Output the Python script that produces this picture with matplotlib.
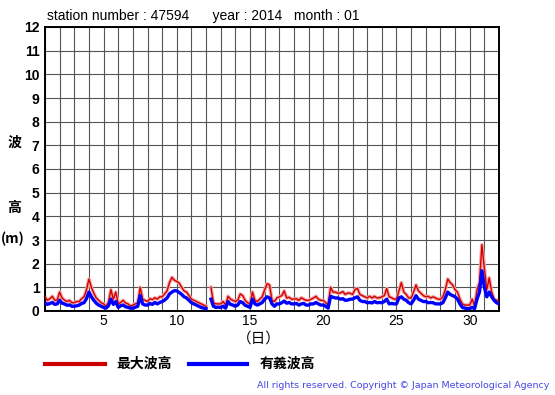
import numpy as np
import matplotlib
matplotlib.use("Agg")
import matplotlib.pyplot as plt
from matplotlib.lines import Line2D

# --- Data (4-hourly readings, January 2014, station 47594) ---
station = "47594"
year = "2014"
month = "01"

# significant wave height (m), 6 values per day, day 1 .. day 31, then end of month
sig_wave = [
    0.35, 0.28, 0.32, 0.36, 0.28, 0.30,   # 1
    0.45, 0.33, 0.30, 0.24, 0.26, 0.20,   # 2
    0.20, 0.22, 0.25, 0.32, 0.35, 0.52,   # 3
    0.80, 0.60, 0.45, 0.33, 0.25, 0.20,   # 4
    0.15, 0.12, 0.22, 0.50, 0.28, 0.40,   # 5
    0.15, 0.22, 0.25, 0.18, 0.15, 0.12,   # 6
    0.12, 0.16, 0.20, 0.65, 0.30, 0.25,   # 7
    0.25, 0.32, 0.28, 0.36, 0.30, 0.36,   # 8
    0.40, 0.46, 0.55, 0.72, 0.80, 0.86,   # 9
    0.85, 0.78, 0.70, 0.60, 0.55, 0.45,   # 10
    0.35, 0.30, 0.25, 0.20, 0.15, 0.12,   # 11
    0.10, np.nan, 0.50, 0.20, 0.15, 0.16,  # 12
    0.15, 0.20, 0.12, 0.40, 0.28, 0.25,   # 13
    0.20, 0.26, 0.40, 0.35, 0.24, 0.20,   # 14
    0.15, 0.50, 0.30, 0.25, 0.30, 0.36,   # 15
    0.50, 0.60, 0.55, 0.30, 0.20, 0.30,   # 16
    0.30, 0.35, 0.42, 0.33, 0.36, 0.30,   # 17
    0.30, 0.32, 0.25, 0.30, 0.32, 0.25,   # 18
    0.25, 0.30, 0.30, 0.36, 0.30, 0.25,   # 19
    0.25, 0.20, 0.12, 0.62, 0.58, 0.55,   # 20
    0.55, 0.50, 0.52, 0.45, 0.46, 0.50,   # 21
    0.50, 0.56, 0.60, 0.45, 0.40, 0.40,   # 22
    0.35, 0.36, 0.34, 0.40, 0.35, 0.36,   # 23
    0.35, 0.40, 0.50, 0.30, 0.32, 0.30,   # 24
    0.30, 0.55, 0.60, 0.50, 0.45, 0.35,   # 25
    0.30, 0.45, 0.65, 0.50, 0.45, 0.40,   # 26
    0.40, 0.35, 0.36, 0.35, 0.30, 0.30,   # 27
    0.30, 0.35, 0.55, 0.80, 0.70, 0.65,   # 28
    0.60, 0.50, 0.30, 0.15, 0.12, 0.10,   # 29
    0.10, 0.15, 0.10, 0.50, 0.80, 1.70,   # 30
    1.00, 0.60, 0.80, 0.60, 0.45, 0.35,   # 31
    0.30,
]

# maximum wave height (m), same times
max_wave = [
    0.60, 0.45, 0.52, 0.62, 0.45, 0.46,
    0.80, 0.55, 0.46, 0.40, 0.45, 0.35,
    0.35, 0.40, 0.40, 0.52, 0.60, 0.90,
    1.35, 1.00, 0.75, 0.55, 0.45, 0.35,
    0.30, 0.20, 0.36, 0.90, 0.50, 0.80,
    0.30, 0.36, 0.45, 0.34, 0.30, 0.20,
    0.25, 0.30, 0.35, 1.00, 0.50, 0.45,
    0.40, 0.52, 0.48, 0.56, 0.50, 0.60,
    0.60, 0.72, 0.85, 1.20, 1.42, 1.30,
    1.25, 1.18, 1.00, 0.85, 0.80, 0.65,
    0.50, 0.45, 0.40, 0.35, 0.30, 0.25,
    0.20, np.nan, 1.00, 0.35, 0.30, 0.30,
    0.30, 0.40, 0.25, 0.62, 0.50, 0.45,
    0.40, 0.46, 0.72, 0.65, 0.45, 0.35,
    0.30, 0.80, 0.45, 0.40, 0.50, 0.60,
    0.90, 1.15, 1.10, 0.45, 0.40, 0.55,
    0.60, 0.65, 0.85, 0.55, 0.58, 0.50,
    0.50, 0.52, 0.45, 0.56, 0.50, 0.45,
    0.45, 0.50, 0.55, 0.62, 0.50, 0.45,
    0.45, 0.35, 0.25, 1.00, 0.80, 0.80,
    0.75, 0.76, 0.82, 0.70, 0.76, 0.75,
    0.70, 0.90, 0.96, 0.70, 0.65, 0.60,
    0.55, 0.62, 0.55, 0.62, 0.55, 0.56,
    0.60, 0.65, 0.95, 0.60, 0.56, 0.50,
    0.50, 0.85, 1.20, 0.80, 0.70, 0.55,
    0.55, 0.80, 1.10, 0.85, 0.75, 0.65,
    0.60, 0.62, 0.55, 0.60, 0.55, 0.50,
    0.50, 0.60, 0.90, 1.35, 1.20, 1.10,
    0.90, 0.80, 0.50, 0.30, 0.25, 0.25,
    0.25, 0.50, 0.22, 0.90, 1.20, 2.80,
    1.80, 0.90, 1.40, 0.80, 0.50, 0.45,
    0.45,
]

days = 1 + np.arange(len(sig_wave)) / 6.0
x_labels = [5, 10, 15, 20, 25, 30]
y_ticks = list(range(0, 13))

# --- Figure ---
plt.rcParams['font.family'] = ['Liberation Sans', 'DejaVu Sans']
jp = ['Noto Sans CJK JP', 'DejaVu Sans']

fig = plt.figure(figsize=(5.55, 3.95), dpi=100)
ax = fig.add_axes([45 / 555, 84 / 395, 454 / 555, 284 / 395])

# pale band behind the max line, like the noisy trace in the original
ax.plot(days, max_wave, color='#f2a6a6', lw=2.6, zorder=2)
ax.plot(days, max_wave, color='#d40000', lw=1.0, zorder=3)
ax.plot(days, sig_wave, color='#0000ff', lw=2.4, zorder=4)

ax.set_xlim(1, 32)
ax.set_ylim(0, 12)
ax.set_xticks(x_labels)
ax.set_xticks(range(1, 33), minor=True)
ax.set_yticks(y_ticks)
ax.grid(which='both', axis='x', color='#555555', lw=0.8, zorder=1)
ax.grid(which='major', axis='y', color='#555555', lw=0.8, zorder=1)
ax.tick_params(which='both', length=0)
ax.tick_params(axis='y', labelsize=10, pad=4)
ax.tick_params(axis='x', labelsize=10, pad=2)
for lab in ax.get_yticklabels():
    lab.set_fontweight('bold')
for sp in ax.spines.values():
    sp.set_linewidth(1.4)
    sp.set_color('black')

# title and axis labels
fig.text(47 / 555, 1 - 16 / 395,
         f"station number : {station}      year : {year}   month : {month}",
         fontsize=10, va='center', ha='left')
fig.text(14 / 555, 1 - 143 / 395, "波", family=jp, fontsize=10, fontweight='bold',
         ha='center', va='center')
fig.text(14 / 555, 1 - 208 / 395, "高", family=jp, fontsize=10, fontweight='bold',
         ha='center', va='center')
fig.text(13 / 555, 1 - 239 / 395, "(m)", family=jp, fontsize=10, fontweight='bold',
         ha='center', va='center')
fig.text(259 / 555, 1 - 339 / 395, "（日）", family=jp, fontsize=10.5,
         ha='center', va='center')

# legend drawn by hand at the bottom
ly = 1 - 364 / 395
fig.add_artist(Line2D([45 / 555, 105 / 555], [ly, ly], color='#cc0000', lw=3))
fig.text(116 / 555, ly, "最大波高", family=jp, fontsize=10, fontweight='bold', va='center')
fig.add_artist(Line2D([189 / 555, 247 / 555], [ly, ly], color='#0000ff', lw=3))
fig.text(260 / 555, ly, "有義波高", family=jp, fontsize=10, fontweight='bold', va='center')

fig.text(549 / 555, 1 - 385 / 395,
         "All rights reserved. Copyright \u00a9 Japan Meteorological Agency",
         family='DejaVu Sans', fontsize=6.8, color='#4646e6', ha='right', va='center')

fig.savefig("out.png", dpi=100)
